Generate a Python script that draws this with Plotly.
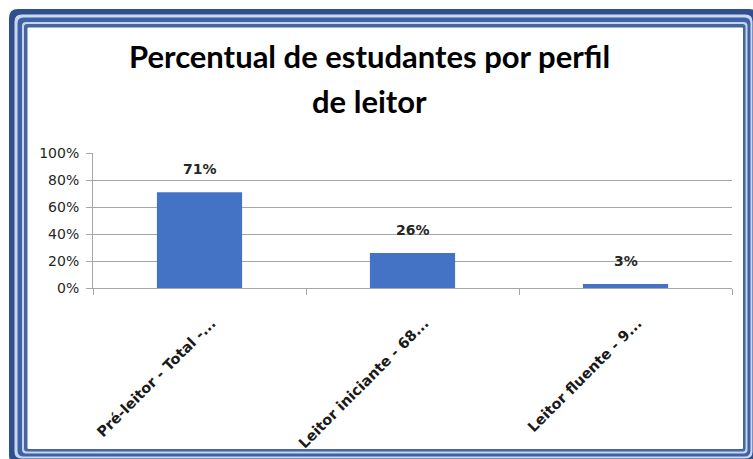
import plotly.graph_objects as go

categories = ["Pré-leitor - Total -...", "Leitor iniciante - 68...", "Leitor fluente - 9..."]
values = [0.71, 0.26, 0.03]
labels = ["71%", "26%", "3%"]
title_lines = ["Percentual de estudantes por perfil", "de leitor"]
y_ticks = [0, 0.2, 0.4, 0.6, 0.8, 1.0]

W, H = 753, 459
L, R, T, B = 93, 21, 153, 171
PW, PH = W - L - R, H - T - B


def px(x):
    return (x - L) / PW


def py(y):
    return (H - B - y) / PH


def rrect(x0, y0, x1, y1, r):
    rx, ry = r / PW, r / PH
    X0, X1 = px(x0), px(x1)
    Y0, Y1 = py(y0), py(y1)
    return (f"M {X0},{Y0 - ry} Q {X0},{Y0} {X0 + rx},{Y0} "
            f"L {X1 - rx},{Y0} Q {X1},{Y0} {X1},{Y0 - ry} "
            f"L {X1},{Y1 + ry} Q {X1},{Y1} {X1 - rx},{Y1} "
            f"L {X0 + rx},{Y1} Q {X0},{Y1} {X0},{Y1 + ry} Z")


frame_layers = [
    ((9, 9, 758, 464), 9, "#2F4F8F"),
    ((14.5, 14.5, 752.5, 458.5), 7, "#CBD8EE"),
    ((17.5, 17.5, 750.5, 456.5), 6, "#3E62A8"),
    ((22, 22, 747.5, 453.5), 4, "#C6D3EB"),
    ((24, 24, 745.5, 451.5), 3, "#44679F"),
    ((27.5, 27.5, 743, 449), 1, "#FFFFFF"),
]

shapes = []
for (x0, y0, x1, y1), r, c in frame_layers:
    shapes.append(dict(type="path", xref="paper", yref="paper", path=rrect(x0, y0, x1, y1, r),
                       fillcolor=c, line=dict(width=0), layer="below"))

fig = go.Figure()
fig.add_trace(go.Bar(x=categories, y=values, marker=dict(color="#4472C4", line=dict(width=0)),
                     width=0.4, hoverinfo="skip"))

annotations = []
for c, v, t in zip(categories, values, labels):
    annotations.append(dict(x=c, y=v, xref="x", yref="y", text=t, showarrow=False,
                            yanchor="middle", yshift=23,
                            font=dict(family="DejaVu Sans", size=14, color="#262626", weight="bold")))

title_y = [56, 101]
for line, yy in zip(title_lines, title_y):
    annotations.append(dict(x=px(369), y=py(yy), xref="paper", yref="paper", text=line,
                            showarrow=False, xanchor="center", yanchor="middle",
                            font=dict(family="Lato", size=31, color="#000000", weight="bold")))

fig.update_layout(
    width=W, height=H,
    margin=dict(l=L, r=R, t=T, b=B, autoexpand=False),
    paper_bgcolor="#FFFFFF", plot_bgcolor="rgba(0,0,0,0)",
    showlegend=False, shapes=shapes, annotations=annotations,
    bargap=0.6,
)
fig.update_yaxes(range=[0, 1], tickvals=y_ticks, tickformat=".0%", showgrid=True,
                 gridcolor="#A6A6A6", gridwidth=1, showline=True, linecolor="#A6A6A6",
                 ticks="outside", ticklen=6, tickcolor="#A6A6A6", zeroline=False,
                 ticklabelstandoff=4,
                 tickfont=dict(family="DejaVu Sans", size=14, color="#262626"))
fig.update_xaxes(showline=True, linecolor="#A6A6A6", ticks="outside", tickson="boundaries",
                 ticklen=6, tickcolor="#A6A6A6", tickangle=-45, showgrid=False,
                 ticklabelstandoff=20, ticklabelshift=12,
                 tickfont=dict(family="DejaVu Sans", size=14.5, color="#1A1A1A", weight="bold"))

fig.write_html("out.html", config={"displayModeBar": False},
               post_script="document.body.style.margin='0';document.body.style.overflow='hidden';")
